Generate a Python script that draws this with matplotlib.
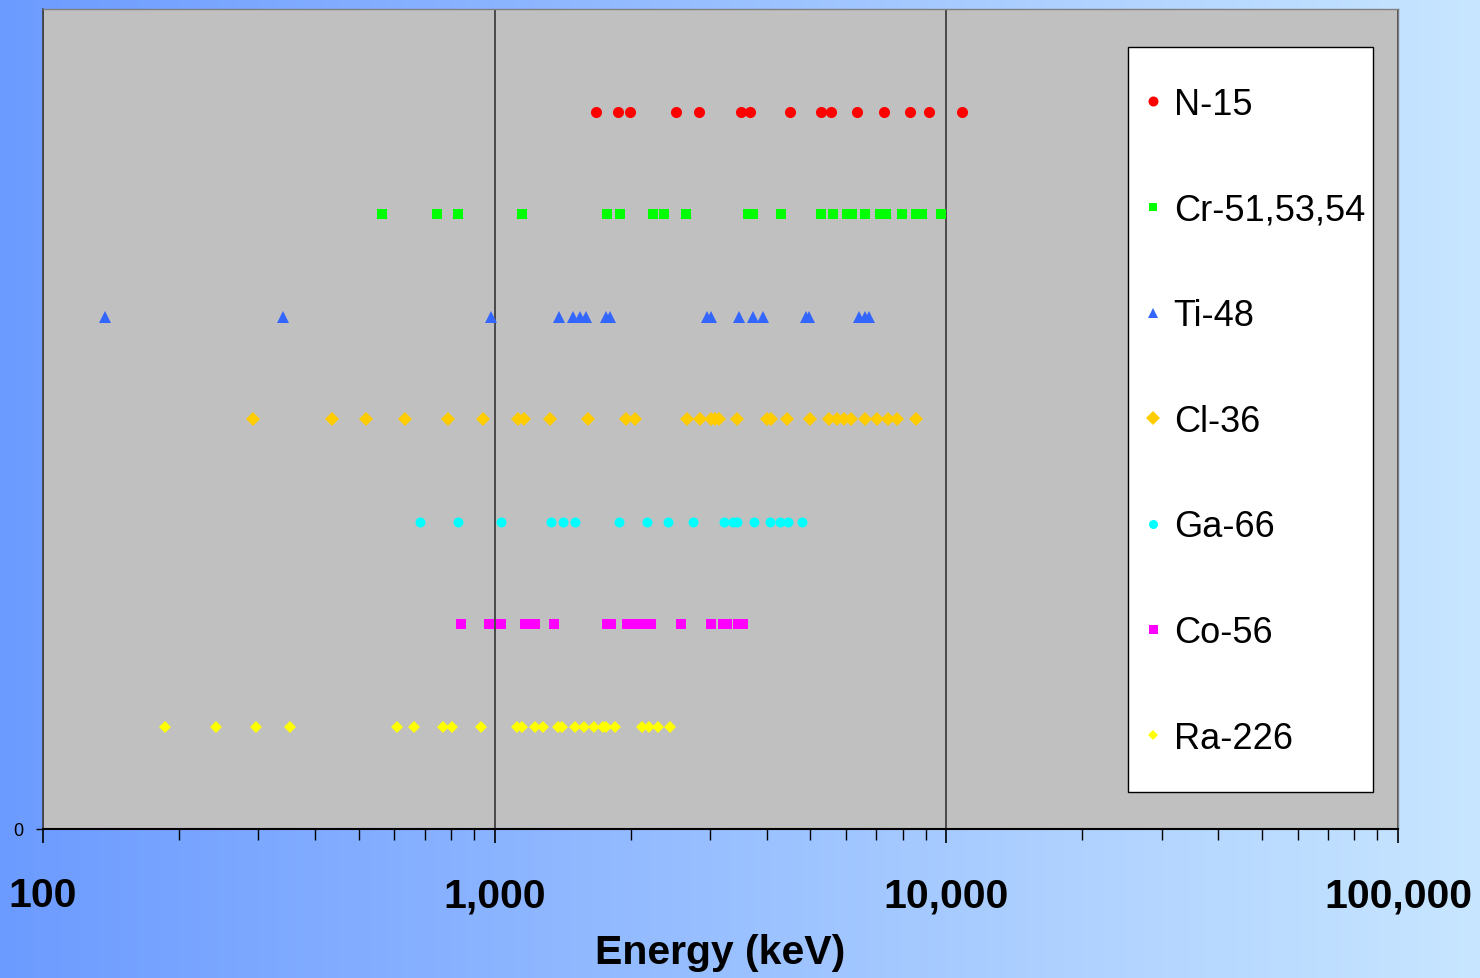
import numpy as np
import matplotlib
matplotlib.use("Agg")
import matplotlib.pyplot as plt
from matplotlib.patches import Rectangle
from matplotlib.ticker import FixedLocator, LogLocator, NullFormatter, FuncFormatter

plt.rcParams['font.family'] = ['Liberation Sans', 'DejaVu Sans']

# Gamma-ray line energies (keV) for each source
n15 = [1674, 1875, 1990, 2520, 2829, 3512, 3681, 4500, 5270, 5543, 6331, 7290, 8309, 9140, 10812]
cr = [563, 745, 830, 1147, 1775, 1890, 2236, 2370, 2658, 3635, 3730, 4304, 5274, 5612,
      6040, 6170, 6612, 7120, 7357, 7957, 8553, 8824, 9732]
ti = [137, 340, 983, 1386, 1494, 1545, 1593, 1764, 1800, 2947, 3017, 3469, 3726, 3934,
      4891, 4975, 6418, 6596, 6752]
cl = [291, 436, 519, 634, 790, 942, 1128, 1161, 1326, 1609, 1954, 2048, 2666, 2848, 3008,
      3080, 3143, 3445, 4000, 4097, 4446, 4982, 5505, 5715, 5933, 6160, 6616, 7011, 7440,
      7792, 8583]
ga = [685, 830, 1031, 1330, 1414, 1503, 1888, 2171, 2416, 2753, 3219, 3376, 3445, 3757,
      4071, 4282, 4470, 4792]
co = [842, 972, 1031, 1167, 1230, 1353, 1770, 1806, 1960, 2015, 2035, 2113, 2214, 2590,
      3008, 3202, 3253, 3273, 3451, 3548]
ra = [186, 242, 296, 353, 608, 663, 767, 804, 933, 1119, 1150, 1229, 1281, 1381, 1410,
      1506, 1577, 1662, 1734, 1764, 1849, 2116, 2200, 2303, 2448]

labels = ["N-15", "Cr-51,53,54", "Ti-48", "Cl-36", "Ga-66", "Co-56", "Ra-226"]
series = [n15, cr, ti, cl, ga, co, ra]
rows = [7, 6, 5, 4, 3, 2, 1]
colors = ["#ff0000", "#00ff00", "#3366ff", "#ffcc00", "#00ffff", "#ff00ff", "#ffff00"]
markers = ["o", "s", "^", "D", "o", "s", "D"]
msizes = [8, 6.5, 8.5, 7.5, 7.2, 7.2, 6.2]

fig = plt.figure(figsize=(14.8, 9.79), dpi=100)

# horizontal blue gradient background
bg = fig.add_axes([0, 0, 1, 1], zorder=-10)
left = np.array([108, 155, 255]) / 255
right = np.array([200, 230, 255]) / 255
t = np.linspace(0, 1, 512)[None, :, None]
grad = left[None, None, :] * (1 - t) + right[None, None, :] * t
bg.imshow(grad, aspect="auto", extent=[0, 1, 0, 1])
bg.set_axis_off()

ax = fig.add_axes([43 / 1480, 1 - 830 / 979, (1398 - 43) / 1480, 820 / 979])
ax.set_facecolor("#c0c0c0")

handles = []
for vals, row, c, m, ms, lab in zip(series, rows, colors, markers, msizes, labels):
    h, = ax.plot(vals, [row] * len(vals), linestyle="none", marker=m, markersize=ms,
                 color=c, markeredgewidth=0, label=lab, zorder=3)
    handles.append(h)

ax.set_xscale("log")
ax.set_xlim(100, 100000)
ax.set_ylim(0, 8)

ax.xaxis.set_major_locator(FixedLocator([100, 1000, 10000, 100000]))
ax.xaxis.set_major_formatter(FuncFormatter(lambda v, p: f"{v:,.0f}"))
ax.xaxis.set_minor_locator(LogLocator(base=10, subs=np.arange(2, 10)))
ax.xaxis.set_minor_formatter(NullFormatter())
ax.tick_params(axis="x", which="major", direction="out", length=10, width=1.2,
               color="black", pad=24, labelsize=29.5)
ax.tick_params(axis="x", which="minor", direction="out", length=8, width=1.0, color="black")
for lbl in ax.get_xticklabels():
    lbl.set_fontweight("bold")

ax.set_yticks([0])
ax.set_yticklabels(["0"])
ax.tick_params(axis="y", direction="out", length=5, width=1.0, pad=9, labelsize=13)

ax.grid(axis="x", which="major", color="#404040", linewidth=1.3, zorder=1)
ax.set_axisbelow(True)

ax.spines["bottom"].set_color("black")
ax.spines["bottom"].set_linewidth(1.5)
ax.spines["left"].set_color("#404040")
ax.spines["left"].set_linewidth(1.2)
for s in ("top", "right"):
    ax.spines[s].set_color("#808080")
    ax.spines[s].set_linewidth(1.0)

ax.set_xlabel("Energy (keV)", fontsize=29.5, fontweight="bold")
ax.xaxis.set_label_coords(0.5, -0.1495)
ax.xaxis.label.set_va("center")

# legend: white box with the series list inside
box_x0, box_x1 = 1128 / 1480, 1373 / 1480
box_y0, box_y1 = 1 - 793 / 979, 1 - 48 / 979
fig.patches.append(Rectangle((box_x0, box_y0), box_x1 - box_x0, box_y1 - box_y0,
                             transform=fig.transFigure, facecolor="white",
                             edgecolor="black", linewidth=1.0, zorder=5))
leg = fig.legend(handles=handles, loc="upper left",
                 bbox_to_anchor=(1143 / 1480, 1 - 88 / 979),
                 frameon=False, fontsize=26, labelspacing=1.955, handlelength=0.55,
                 handletextpad=0.3, borderpad=0, borderaxespad=0, markerscale=0.9)
leg.set_zorder(6)

fig.savefig("out.png", dpi=100)
